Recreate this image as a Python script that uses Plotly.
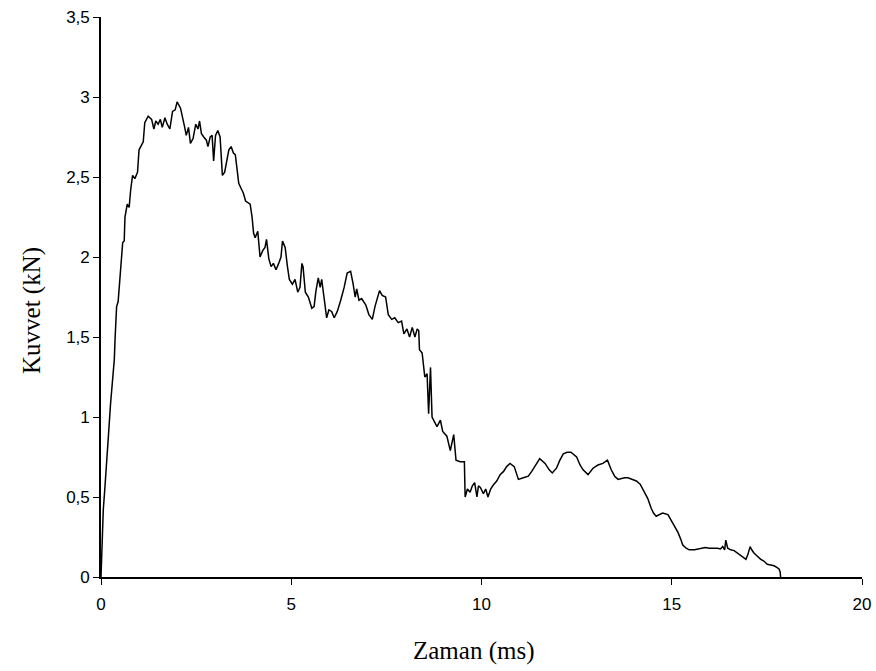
import plotly.graph_objects as go

time_ms = [
    0.0, 0.03, 0.06, 0.1, 0.14, 0.2, 0.25, 0.3, 0.35, 0.37, 0.41, 0.45, 0.48, 0.51, 0.57, 0.61, 0.63, 0.69,
    0.74, 0.78, 0.83, 0.89, 0.96, 1.0, 1.06, 1.11, 1.15, 1.24, 1.33, 1.39, 1.44, 1.5, 1.56, 1.61,
    1.68, 1.74, 1.81, 1.88, 1.95, 2.0, 2.09, 2.16, 2.2, 2.24, 2.3, 2.35, 2.42, 2.49, 2.55, 2.59,
    2.64, 2.7, 2.77, 2.81, 2.87, 2.92, 2.96, 3.01, 3.07, 3.13, 3.19, 3.25, 3.31, 3.36, 3.42, 3.48,
    3.53, 3.57, 3.62, 3.68, 3.74, 3.8, 3.86, 3.92, 3.97, 4.01, 4.05, 4.12, 4.18, 4.25, 4.31, 4.35,
    4.41, 4.47, 4.53, 4.6, 4.67, 4.73, 4.77, 4.84, 4.9, 4.95, 5.03, 5.1, 5.17, 5.23, 5.28, 5.31,
    5.37, 5.45, 5.54, 5.6, 5.65, 5.71, 5.76, 5.8, 5.86, 5.93, 5.99, 6.06, 6.13, 6.21, 6.3, 6.39,
    6.47, 6.56, 6.62, 6.68, 6.72, 6.78, 6.85, 6.96, 7.04, 7.13, 7.2, 7.26, 7.32, 7.39, 7.48, 7.55,
    7.64, 7.72, 7.81, 7.9, 7.96, 8.04, 8.11, 8.18, 8.25, 8.31, 8.35, 8.37, 8.44, 8.51, 8.57, 8.61,
    8.66, 8.7, 8.77, 8.83, 8.92, 8.98, 9.09, 9.18, 9.27, 9.33, 9.44, 9.55, 9.57, 9.63, 9.7, 9.76,
    9.82, 9.88, 9.92, 9.97, 10.05, 10.11, 10.17, 10.24, 10.31, 10.4, 10.49, 10.58, 10.66, 10.75, 10.86, 10.97,
    11.1, 11.23, 11.32, 11.4, 11.53, 11.67, 11.78, 11.86, 11.97, 12.06, 12.15, 12.25, 12.35, 12.5, 12.59, 12.67,
    12.8, 12.93, 13.06, 13.19, 13.31, 13.41, 13.5, 13.59, 13.76, 13.85, 13.94, 14.07, 14.17, 14.24, 14.31, 14.37,
    14.46, 14.52, 14.59, 14.67, 14.76, 14.9, 14.97, 15.03, 15.1, 15.16, 15.23, 15.29, 15.38, 15.46, 15.6, 15.77,
    15.88, 15.99, 16.1, 16.2, 16.28, 16.34, 16.39, 16.42, 16.47, 16.55, 16.64, 16.73, 16.82, 16.95, 17.0, 17.06,
    17.1, 17.16, 17.25, 17.34, 17.42, 17.51, 17.6, 17.69, 17.76, 17.82, 17.85, 17.86,
]

force_kn = [
    0.0, 0.22, 0.42, 0.55, 0.72, 0.9, 1.08, 1.22, 1.36, 1.49, 1.69, 1.72, 1.83, 1.92, 2.09, 2.1, 2.25, 2.33,
    2.31, 2.42, 2.51, 2.49, 2.53, 2.67, 2.7, 2.72, 2.84, 2.88, 2.86, 2.8, 2.85, 2.83, 2.86, 2.81,
    2.87, 2.83, 2.8, 2.91, 2.92, 2.97, 2.93, 2.86, 2.81, 2.76, 2.81, 2.71, 2.74, 2.83, 2.8, 2.85,
    2.77, 2.75, 2.73, 2.69, 2.75, 2.76, 2.6, 2.76, 2.79, 2.75, 2.51, 2.53, 2.61, 2.67, 2.69, 2.65,
    2.64, 2.56, 2.46, 2.43, 2.4, 2.35, 2.34, 2.33, 2.25, 2.15, 2.12, 2.16, 2.0, 2.04, 2.06, 2.11,
    1.99, 1.94, 1.96, 1.92, 1.96, 2.0, 2.1, 2.06, 1.94, 1.86, 1.83, 1.86, 1.78, 1.81, 1.96, 1.94,
    1.78, 1.75, 1.68, 1.69, 1.79, 1.87, 1.81, 1.86, 1.75, 1.62, 1.67, 1.66, 1.62, 1.66, 1.73, 1.81,
    1.9, 1.91, 1.84, 1.75, 1.8, 1.73, 1.74, 1.7, 1.64, 1.61, 1.69, 1.74, 1.79, 1.76, 1.75, 1.64,
    1.61, 1.62, 1.59, 1.6, 1.52, 1.55, 1.5, 1.56, 1.5, 1.55, 1.54, 1.42, 1.4, 1.25, 1.27, 1.02,
    1.31, 1.0, 0.97, 0.94, 0.98, 0.91, 0.88, 0.79, 0.89, 0.73, 0.72, 0.72, 0.5, 0.55, 0.53, 0.57,
    0.59, 0.5, 0.57, 0.56, 0.52, 0.55, 0.5, 0.55, 0.575, 0.6, 0.64, 0.66, 0.69, 0.71, 0.69, 0.61,
    0.62, 0.63, 0.66, 0.69, 0.74, 0.71, 0.67, 0.65, 0.68, 0.73, 0.77, 0.78, 0.78, 0.75, 0.7, 0.67,
    0.64, 0.68, 0.7, 0.71, 0.73, 0.67, 0.63, 0.61, 0.62, 0.62, 0.61, 0.6, 0.58, 0.55, 0.52, 0.49,
    0.43, 0.4, 0.38, 0.39, 0.4, 0.39, 0.36, 0.33, 0.3, 0.28, 0.24, 0.2, 0.18, 0.17, 0.17, 0.18,
    0.185, 0.18, 0.18, 0.18, 0.175, 0.19, 0.17, 0.23, 0.18, 0.17, 0.165, 0.15, 0.13, 0.11, 0.14, 0.19,
    0.17, 0.15, 0.13, 0.11, 0.1, 0.08, 0.075, 0.07, 0.06, 0.05, 0.03, 0.0,
]

x_ticks = [0, 5, 10, 15, 20]
y_ticks = [0, 0.5, 1, 1.5, 2, 2.5, 3, 3.5]

x_title = "Zaman (ms)"
y_title = "Kuvvet (kN)"

tick_font = dict(family="Liberation Sans, Arial, sans-serif", size=17, color="black")
title_font = dict(family="Liberation Serif, Times New Roman, serif", size=25, color="black")

fig = go.Figure()
fig.add_trace(go.Scatter(
    x=time_ms, y=force_kn, mode="lines",
    line=dict(color="black", width=1.5),
    showlegend=False, hoverinfo="skip",
))

fig.update_layout(
    width=876, height=671,
    margin=dict(l=101, r=14, t=17, b=94, autoexpand=False),
    paper_bgcolor="white", plot_bgcolor="white",
    separators=",.",
    font=tick_font,
    annotations=[
        dict(text=x_title, xref="paper", yref="paper", x=0.5, y=0, xshift=-8, yshift=-74,
             xanchor="center", yanchor="middle", showarrow=False, font=title_font),
        dict(text=y_title, xref="paper", yref="paper", x=0, y=0.5, xshift=-69, yshift=-14,
             xanchor="center", yanchor="middle", textangle=-90, showarrow=False, font=title_font),
    ],
)
fig.update_xaxes(
    range=[0, 20], tickvals=x_ticks, ticks="outside", ticklen=6, tickwidth=1.3, tickcolor="black",
    showline=True, linecolor="black", linewidth=1.6, showgrid=False, zeroline=False,
    tickfont=tick_font, automargin=False, ticklabeloverflow="allow", ticklabelstandoff=5,
)
fig.update_yaxes(
    range=[0, 3.5], tickvals=y_ticks, ticks="outside", ticklen=6, tickwidth=1.3, tickcolor="black",
    showline=True, linecolor="black", linewidth=1.6, showgrid=False, zeroline=False,
    tickfont=tick_font, automargin=False, ticklabeloverflow="allow",
)

# remove the browser's default 8px body margin so the figure sits at the page origin
fig.write_html(
    "out.html",
    config={"displayModeBar": False},
    post_script="document.body.style.margin='0';document.body.style.overflow='hidden';",
)
